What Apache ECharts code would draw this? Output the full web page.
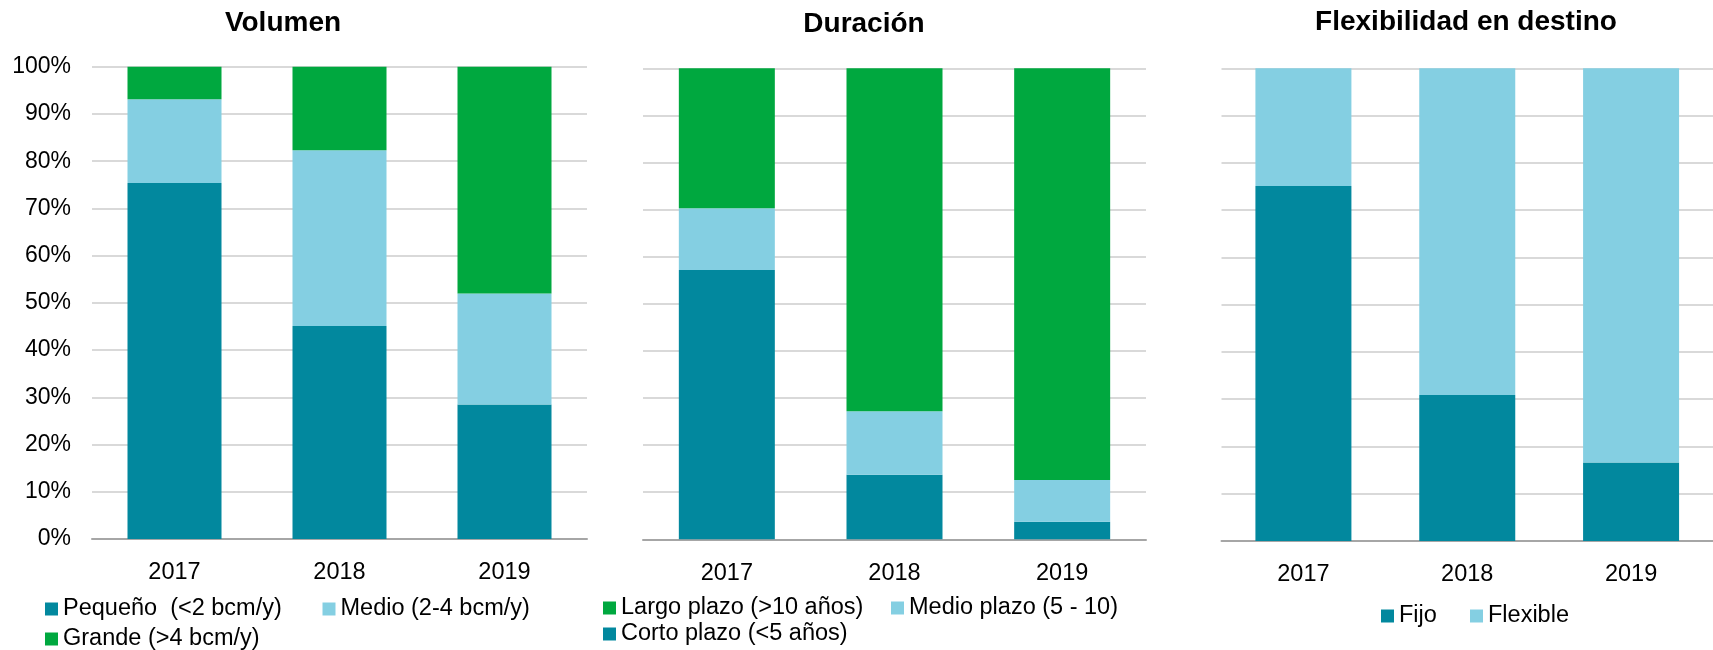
<!DOCTYPE html>
<html>
<head>
<meta charset="utf-8">
<script src="https://cdn.jsdelivr.net/npm/echarts@6/dist/echarts.min.js"></script>
<style>
  html, body { margin: 0; padding: 0; background: #fff; }
  #main { width: 1713px; height: 650px; }
</style>
</head>
<body>
<div id="main"></div>
<script>
// datos
const years = ['2017', '2018', '2019'];
const yTicks = [0, 10, 20, 30, 40, 50, 60, 70, 80, 90, 100];

// Volumen
const pequeno = [75.4, 45.1, 28.5];
const medio = [17.7, 37.2, 23.5];
const grande = [6.9, 17.7, 48.0];

// Duración
const corto = [57.2, 13.7, 3.7];
const medioPlazo = [13.1, 13.5, 8.9];
const largo = [29.7, 72.8, 87.4];

// Flexibilidad en destino
const fijo = [75.1, 30.9, 16.6];
const flexible = [24.9, 69.1, 83.4];

const TEAL = '#02889E', LIGHT = '#84CFE2', GREEN = '#00A83F';
const FONT = 'Liberation Sans, Arial, sans-serif';

function xAx(i) {
  return {
    type: 'category', gridIndex: i, data: years,
    axisTick: { show: false },
    axisLine: { lineStyle: { color: '#a6a6a6', width: 2 } },
    axisLabel: { color: '#000', fontSize: 23.5, fontFamily: FONT, margin: 22 }
  };
}
function yAx(i, showLabel) {
  return {
    type: 'value', gridIndex: i, min: yTicks[0], max: yTicks[yTicks.length - 1], interval: 10,
    axisLine: { show: false }, axisTick: { show: false },
    splitLine: { lineStyle: { color: '#d9d9d9', width: 2 } },
    axisLabel: { show: showLabel, color: '#000', fontSize: 23, fontFamily: FONT, margin: 21, formatter: '{value}%' }
  };
}
function bar(name, data, color, i, w) {
  return {
    name: name, type: 'bar', stack: 's' + i, data: data,
    xAxisIndex: i, yAxisIndex: i, barWidth: w,
    itemStyle: { color: color }
  };
}
function leg(name, left, top) {
  return {
    data: [name], left: left, top: top, padding: 0,
    icon: 'rect', itemWidth: 13, itemHeight: 13,
    textStyle: { color: '#000', fontSize: 23.5, fontFamily: FONT },
    selectedMode: false
  };
}
function titulo(text, x, top) {
  return {
    text: text, left: x, top: top, textAlign: 'center', padding: 0,
    textStyle: { color: '#000', fontSize: 28, fontWeight: 'bold', fontFamily: FONT }
  };
}

const chart = echarts.init(document.getElementById('main'));
chart.setOption({
  animation: false,
  title: [
    titulo('Volumen', 283, 9),
    titulo('Duración', 864, 10),
    titulo('Flexibilidad en destino', 1466, 8)
  ],
  grid: [
    { left: 92, top: 66.7, width: 495, height: 472.3 },
    { left: 643, top: 68.3, width: 503, height: 471 },
    { left: 1221.5, top: 68.3, width: 502, height: 472.7 }
  ],
  xAxis: [xAx(0), xAx(1), xAx(2)],
  yAxis: [yAx(0, true), yAx(1, false), yAx(2, false)],
  legend: [
    leg('Pequeño  (<2 bcm/y)', 45, 597),
    leg('Medio (2-4 bcm/y)', 322.5, 597),
    leg('Grande (>4 bcm/y)', 45, 627),
    leg('Largo plazo (>10 años)', 603, 596),
    leg('Medio plazo (5 - 10)', 891, 596),
    leg('Corto plazo (<5 años)', 603, 622),
    leg('Fijo', 1381, 604),
    leg('Flexible', 1470, 604)
  ],
  series: [
    bar('Pequeño  (<2 bcm/y)', pequeno, TEAL, 0, 94),
    bar('Medio (2-4 bcm/y)', medio, LIGHT, 0, 94),
    bar('Grande (>4 bcm/y)', grande, GREEN, 0, 94),
    bar('Corto plazo (<5 años)', corto, TEAL, 1, 96),
    bar('Medio plazo (5 - 10)', medioPlazo, LIGHT, 1, 96),
    bar('Largo plazo (>10 años)', largo, GREEN, 1, 96),
    bar('Fijo', fijo, TEAL, 2, 96),
    bar('Flexible', flexible, LIGHT, 2, 96)
  ]
});
</script>
</body>
</html>
